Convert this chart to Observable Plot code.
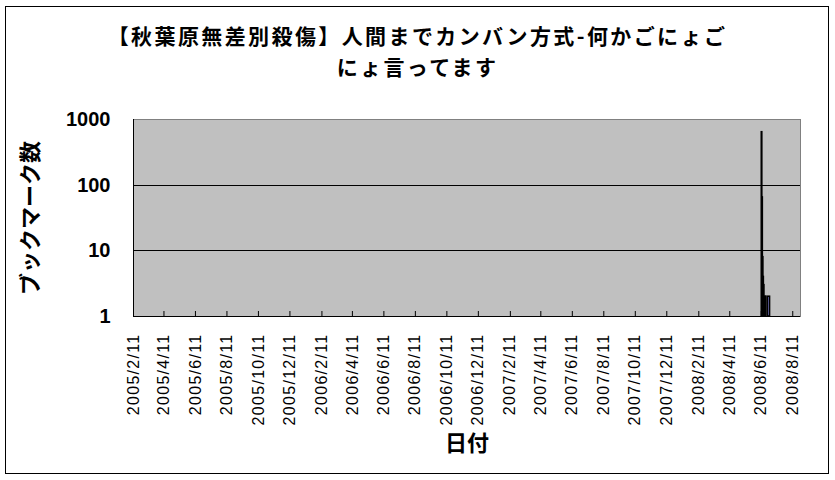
<!DOCTYPE html>
<html><head><meta charset="utf-8">
<script src="https://cdn.jsdelivr.net/npm/d3@7"></script>
<script src="https://cdn.jsdelivr.net/npm/@observablehq/plot@0.6"></script>
<style>
body{margin:0;background:#fff}
#wrap{position:relative;width:835px;height:480px;overflow:hidden;background:#fff}
#border{position:absolute;left:5px;top:6px;width:824px;height:468px;box-sizing:border-box;border:1px solid #000;pointer-events:none}
#title{height:100px;box-sizing:border-box;padding-top:20px;text-align:center;font:bold 21px/31px "Noto Sans CJK JP",sans-serif;letter-spacing:2.4px;color:#000}
#chart svg{display:block}
g[aria-label="y-axis tick label"] text{font:bold 20px "Liberation Sans",Arial,sans-serif;fill:#000}
g[aria-label="x-axis tick label"] text{font:400 16px "Liberation Sans",Arial,sans-serif;letter-spacing:1.3px;fill:#000}
g[aria-label="y-axis label"] text,g[aria-label="x-axis label"] text{font:bold 22px "Noto Sans CJK JP",sans-serif;fill:#000}
</style></head>
<body>
<div id="wrap">
<div id="title">【秋葉原無差別殺傷】人間までカンバン方式-何かごにょご<br>にょ言ってます</div>
<div id="chart"></div>
<div id="border"></div>
</div>
<script>
// ---- data ----
const tickLabels = ["2005/2/11","2005/4/11","2005/6/11","2005/8/11","2005/10/11","2005/12/11",
  "2006/2/11","2006/4/11","2006/6/11","2006/8/11","2006/10/11","2006/12/11",
  "2007/2/11","2007/4/11","2007/6/11","2007/8/11","2007/10/11","2007/12/11",
  "2008/2/11","2008/4/11","2008/6/11","2008/8/11"];
const axisStart = "2005/2/11";
const axisEnd = "2008/8/26";
const barStart = ["2008/6/12","2008/6/13","2008/6/14","2008/6/15","2008/6/16","2008/6/18","2008/6/20","2008/6/24"];
const barEnd   = ["2008/6/13","2008/6/14","2008/6/15","2008/6/16","2008/6/17","2008/6/19","2008/6/21","2008/6/28"];
const barCount = [640, 65, 8, 4, 3, 2, 2, 2];
const yTicks = [1, 10, 100, 1000];
const gridValues = [10, 100];
const titleY = "ブックマーク数";
const titleX = "日付";

const parse = s => { const [y,m,d] = s.split("/").map(Number); return new Date(Date.UTC(y, m-1, d)); };
const fmt = d => `${d.getUTCFullYear()}/${d.getUTCMonth()+1}/${d.getUTCDate()}`;
const tickDates = tickLabels.map(parse);
const bars = barCount.map((c, i) => ({start: parse(barStart[i]), end: parse(barEnd[i]), count: c}));
const x0 = parse(axisStart);

const chart = Plot.plot({
  width: 835, height: 380,
  marginLeft: 133, marginRight: 35, marginTop: 19, marginBottom: 164,
  style: {background: "transparent", overflow: "visible"},
  x: {type: "utc", domain: [x0, parse(axisEnd)]},
  y: {type: "log", domain: [1, 1000]},
  marks: [
    Plot.frame({fill: "#c0c0c0", stroke: null}),
    Plot.ruleY(gridValues, {stroke: "#000", strokeWidth: 1, shapeRendering: "crispEdges"}),
    Plot.rect(bars, {x1: "start", x2: "end", y1: () => 1, y2: "count", fill: "#9999ff", stroke: "#000", strokeWidth: 1.6}),
    Plot.frame({stroke: "#808080", shapeRendering: "crispEdges"}),
    Plot.ruleY([1], {stroke: "#000", shapeRendering: "crispEdges"}),
    Plot.ruleX([x0], {stroke: "#000", shapeRendering: "crispEdges"}),
    Plot.axisX({ticks: tickDates, tickSize: 5, dy: -5, tickFormat: () => "", label: null, stroke: "#000"}),
    Plot.axisX({ticks: tickDates, tickSize: 0, tickPadding: 17, tickRotate: -90, tickFormat: fmt,
      label: titleX, labelAnchor: "center", labelOffset: 134, labelArrow: "none"}),
    Plot.axisY({ticks: yTicks, tickSize: 0, tickPadding: 23, tickFormat: d => String(d),
      label: titleY, labelAnchor: "center", labelOffset: 111, labelArrow: "none"})
  ]
});
document.getElementById("chart").appendChild(chart);
</script>
</body></html>
